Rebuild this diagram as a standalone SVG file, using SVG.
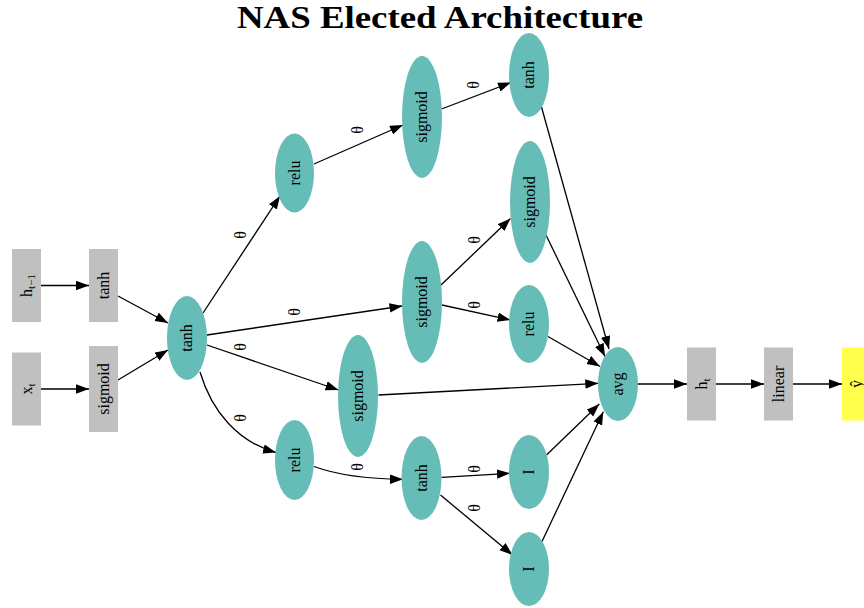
<svg xmlns="http://www.w3.org/2000/svg" width="864" height="608" viewBox="0 0 864 608">
<defs>
<marker id="ah" markerUnits="userSpaceOnUse" markerWidth="14" markerHeight="10" refX="13" refY="4.75" orient="auto">
<path d="M0,0 L13,4.75 L0,9.5 z" fill="#000"/>
</marker>
<style>
.el{fill:#66bdb8;stroke:none}
.rc{fill:#c0c0c0;stroke:none}
.yl{fill:#ffff4c;stroke:none}
.t{font-family:"Liberation Serif","Times New Roman",serif;font-size:16px;fill:#000;text-anchor:middle}
.e{fill:none;stroke:#000;stroke-width:1.3;marker-end:url(#ah)}
.title{font-family:"Liberation Serif","Times New Roman",serif;font-size:32px;font-weight:bold;fill:#000;text-anchor:middle}
</style>
</defs>
<rect width="864" height="608" fill="#fff"/>
<text class="title" x="440" y="27.5" textLength="406" lengthAdjust="spacingAndGlyphs">NAS Elected Architecture</text>

<g id="edges">
<path class="e" d="M41,285.5 L89,285.5"/>
<path class="e" d="M41,389 L89,389"/>
<path class="e" d="M118,296 L168,323"/>
<path class="e" d="M118,380 L168,350"/>
<path class="e" d="M203,313 L280,196"/>
<path class="e" d="M207,335 L402.5,306"/>
<path class="e" d="M207,345 L338.5,390"/>
<path class="e" d="M200,372 C212,412 238,442 276,452.5"/>
<path class="e" d="M314,164 L403,125"/>
<path class="e" d="M441.5,109 L511,82.5"/>
<path class="e" d="M441,285 L510.5,218.5"/>
<path class="e" d="M442,305 L510.5,320"/>
<path class="e" d="M314,466.5 C340,476 370,479 403,479.3"/>
<path class="e" d="M441.5,477.3 L510,473.3"/>
<path class="e" d="M440.5,495 L512.5,555"/>
<path class="e" d="M541.5,107 L609,349"/>
<path class="e" d="M546,235 L605,356.5"/>
<path class="e" d="M548,336.5 L600,366.5"/>
<path class="e" d="M378.5,395 L598.3,383.3"/>
<path class="e" d="M546.5,455 L599.3,404"/>
<path class="e" d="M542,541.5 L603.3,411.7"/>
<path class="e" d="M638,384 L687,384"/>
<path class="e" d="M716,384 L764,384"/>
<path class="e" d="M793,384 L842,384"/>
</g>

<g id="edge-labels">
<text class="t" transform="translate(240,235) rotate(-90)" y="5.5">θ</text>
<text class="t" transform="translate(294,312) rotate(-90)" y="5.5">θ</text>
<text class="t" transform="translate(240,347) rotate(-90)" y="5.5">θ</text>
<text class="t" transform="translate(240,418) rotate(-90)" y="5.5">θ</text>
<text class="t" transform="translate(357,467) rotate(-90)" y="5.5">θ</text>
<text class="t" transform="translate(357,130) rotate(-90)" y="5.5">θ</text>
<text class="t" transform="translate(473,85) rotate(-90)" y="5.5">θ</text>
<text class="t" transform="translate(474,240) rotate(-90)" y="5.5">θ</text>
<text class="t" transform="translate(474,305) rotate(-90)" y="5.5">θ</text>
<text class="t" transform="translate(474,469) rotate(-90)" y="5.5">θ</text>
<text class="t" transform="translate(474,508) rotate(-90)" y="5.5">θ</text>
</g>

<g id="n-htm1"><rect class="rc" x="12" y="249" width="29" height="73"/><text class="t" transform="translate(26.5,285.5) rotate(-90)" y="5">h<tspan font-size="11" dy="3">t−1</tspan></text></g>
<g id="n-xt"><rect class="rc" x="12" y="352.5" width="29" height="73"/><text class="t" transform="translate(26.5,389) rotate(-90)" y="5">x<tspan font-size="11" dy="3">t</tspan></text></g>
<g id="n-tanh-in"><rect class="rc" x="89" y="249" width="29" height="73"/><text class="t" transform="translate(103.5,285.5) rotate(-90)" y="5">tanh</text></g>
<g id="n-sigmoid-in"><rect class="rc" x="89" y="346" width="29" height="86"/><text class="t" transform="translate(103.5,389) rotate(-90)" y="5">sigmoid</text></g>

<g id="n-A"><ellipse class="el" cx="187" cy="338" rx="20" ry="42"/><text class="t" transform="translate(187,338) rotate(-90)" y="5">tanh</text></g>
<g id="n-B"><ellipse class="el" cx="294.5" cy="173" rx="19.5" ry="39.5"/><text class="t" transform="translate(294.5,173) rotate(-90)" y="5">relu</text></g>
<g id="n-C"><ellipse class="el" cx="422" cy="117" rx="20" ry="61"/><text class="t" transform="translate(422,117) rotate(-90)" y="5">sigmoid</text></g>
<g id="n-D"><ellipse class="el" cx="529" cy="75" rx="20" ry="42"/><text class="t" transform="translate(529,75) rotate(-90)" y="5">tanh</text></g>
<g id="n-E"><ellipse class="el" cx="530" cy="202" rx="20" ry="61"/><text class="t" transform="translate(530,202) rotate(-90)" y="5">sigmoid</text></g>
<g id="n-F"><ellipse class="el" cx="529" cy="324" rx="20" ry="39"/><text class="t" transform="translate(529,324) rotate(-90)" y="5">relu</text></g>
<g id="n-G"><ellipse class="el" cx="422" cy="302" rx="20" ry="61"/><text class="t" transform="translate(422,302) rotate(-90)" y="5">sigmoid</text></g>
<g id="n-H"><ellipse class="el" cx="358" cy="396" rx="20" ry="61"/><text class="t" transform="translate(358,396) rotate(-90)" y="5">sigmoid</text></g>
<g id="n-I"><ellipse class="el" cx="294.5" cy="460" rx="19.5" ry="40"/><text class="t" transform="translate(294.5,460) rotate(-90)" y="5">relu</text></g>
<g id="n-J"><ellipse class="el" cx="421.5" cy="478" rx="20" ry="42"/><text class="t" transform="translate(421.5,478) rotate(-90)" y="5">tanh</text></g>
<g id="n-K"><ellipse class="el" cx="529" cy="472" rx="20" ry="37"/><text class="t" transform="translate(529,472) rotate(-90)" y="5">I</text></g>
<g id="n-L"><ellipse class="el" cx="529" cy="569" rx="20" ry="37"/><text class="t" transform="translate(529,569) rotate(-90)" y="5">I</text></g>
<g id="n-M"><ellipse class="el" cx="618" cy="384" rx="20" ry="37"/><text class="t" transform="translate(618,384) rotate(-90)" y="5">avg</text></g>

<g id="n-ht"><rect class="rc" x="687" y="347.5" width="29" height="73"/><text class="t" transform="translate(701.5,384) rotate(-90)" y="5">h<tspan font-size="11" dy="3">t</tspan></text></g>
<g id="n-linear"><rect class="rc" x="764" y="347.5" width="29" height="73"/><text class="t" transform="translate(778.5,384) rotate(-90)" y="5">linear</text></g>
<g id="n-yhat"><rect class="yl" x="842" y="347.5" width="29" height="73"/><text class="t" transform="translate(856.5,384) rotate(-90)" y="5">ŷ</text></g>
</svg>
